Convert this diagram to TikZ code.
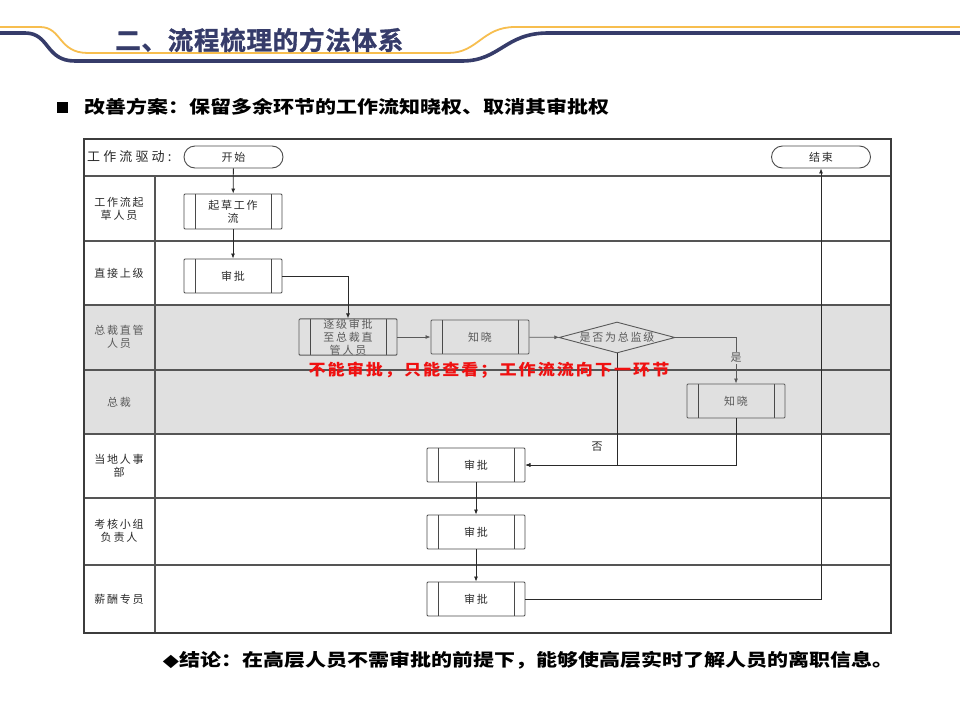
\documentclass[tikz,border=0pt]{standalone}
\usepackage{fontspec}
\setmainfont{Noto Sans CJK SC}
\newfontfamily\djv{DejaVu Sans}
\newfontfamily\dfont[LetterSpace=16]{Noto Sans CJK SC}
\newfontfamily\hfont[LetterSpace=24]{Noto Sans CJK SC}
\newfontfamily\rfont[LetterSpace=12]{Noto Sans CJK SC}
\newfontfamily\tfont[LetterSpace=3,FakeBold=1.2]{Noto Sans CJK SC Bold}
\usetikzlibrary{arrows.meta,shapes.geometric,calc}
\definecolor{navy}{HTML}{363C6A}
\definecolor{gold}{HTML}{F7BE4F}
\definecolor{band}{HTML}{E0E0E0}
\definecolor{framec}{HTML}{3C3C3C}
\definecolor{rowc}{HTML}{555555}
\definecolor{boxc}{HTML}{4A4A4A}
\definecolor{txt}{HTML}{2A2A2A}
\definecolor{gtxt}{HTML}{5A5A5A}
\definecolor{redt}{HTML}{F01010}
\tikzset{
  boxfont/.style={font=\dfont\fontsize{11}{13}\selectfont},
  pbox/.style={draw=boxc, line width=0.9pt, rounded corners=1pt,
    minimum width=98pt, minimum height=34pt, inner sep=0pt, align=center,
    boxfont, text=txt,
    path picture={\draw[boxc, line width=0.9pt]
      ([xshift=11pt]path picture bounding box.north west) -- ([xshift=11pt]path picture bounding box.south west)
      ([xshift=-11pt]path picture bounding box.north east) -- ([xshift=-11pt]path picture bounding box.south east);}},
  gbox/.style={pbox, text=gtxt, draw=gtxt},
  term/.style={draw=boxc, line width=0.9pt, rounded corners=11pt,
    minimum width=99pt, minimum height=22pt, inner sep=0pt, boxfont, text=txt},
  decide/.style={diamond, draw=gtxt, line width=0.9pt, aspect=3.7, inner sep=0pt,
    minimum width=116pt, minimum height=31pt, boxfont, text=gtxt},
  lanelbl/.style={align=center, boxfont, text=txt, inner sep=0pt},
  rowline/.style={draw=rowc, line width=1.1pt},
  flow/.style={draw=txt, line width=0.8pt, -{Latex[length=5pt,width=4pt]}},
  flowg/.style={draw=gtxt, line width=0.8pt, -{Latex[length=5pt,width=4pt]}},
  bigtxt/.style={font=\bfseries\fontsize{17.5}{20}\selectfont, text=black, inner sep=0pt, xscale=1.2},
}
\begin{document}
\begin{tikzpicture}[x=1pt,y=-1pt]
\useasboundingbox[fill=white] (0,0) rectangle (960,720);

% header swoosh
\draw[gold, line width=1.8pt] (0,27) -- (40,27) .. controls (62,27) and (58,53) .. (88,53) -- (448,53) .. controls (478,53) and (482,27) .. (515,27) -- (960,27);
\draw[navy, line width=3.6pt] (0,33) -- (25,33) .. controls (50,33) and (45,61) .. (75,61) -- (462,61) .. controls (500,61) and (505,33) .. (548,33) -- (960,33);
\node[font=\tfont\fontsize{25.5}{28}\selectfont, text=navy, inner sep=0pt, anchor=west] (title) at (115,40) {二、流程梳理的方法体系};

% subtitle
\node[fill=black, minimum size=11pt, inner sep=0pt] (bullet) at (62,107) {};
\node[bigtxt, anchor=west] (plan) at (84,107) {改善方案：保留多余环节的工作流知晓权、取消其审批权};

% swimlane frame
\fill[band] (84,305) rectangle (891,434);
\foreach \yy in {176,241,305,370,434,498,565} \draw[rowline] (84,\yy) -- (891,\yy);
\draw[rowline] (155,176) -- (155,633);
\draw[framec, line width=1.3pt] (84,139) rectangle (891,633);

% lane labels
\node[font=\hfont\fontsize{13}{15}\selectfont, text=txt, inner sep=0pt, anchor=west] (drv) at (87,157) {工作流驱动:};
\node[lanelbl] (l1) at (119,209) {工作流起\\草人员};
\node[lanelbl] (l2) at (119,273) {直接上级};
\node[lanelbl, text=gtxt] (l3) at (119,337) {总裁直管\\人员};
\node[lanelbl, text=gtxt] (l4) at (119,402) {总裁};
\node[lanelbl] (l5) at (119,466) {当地人事\\部};
\node[lanelbl] (l6) at (119,531) {考核小组\\负责人};
\node[lanelbl] (l7) at (119,599) {薪酬专员};

% flow nodes
\node[term] (start) at (233.5,157) {开始};
\node[term] (end) at (821,157) {结束};
\node[pbox, minimum height=35pt] (draft) at (233,211.5) {起草工作\\流};
\node[pbox] (appr1) at (233,276) {审批};
\node[gbox] (stepup) at (348,337) {逐级审批\\至总裁直\\管人员};
\node[gbox] (know1) at (480,337) {知晓};
\node[decide] (dia) at (617,337.5) {是否为总监级};
\node[gbox] (know2) at (736,401) {知晓};
\node[pbox] (hr) at (476,465) {审批};
\node[pbox] (kh) at (476,532) {审批};
\node[pbox] (xc) at (476,599) {审批};

% connectors
\draw[flow] (start) -- (draft);
\draw[flow] (draft) -- (appr1);
\draw[flow] (appr1.east) -| (stepup.north);
\draw[flowg] (stepup) -- (know1);
\draw[flowg] (know1) -- (dia);
\draw[flowg] (dia.east) -| node[pos=0.72, fill=band, inner sep=1pt, boxfont, text=gtxt] {是} (know2.north);
\draw[flow] (dia.south) |- (hr.east);
\draw[flow] (know2.south) |- (hr.east);
\node[boxfont, text=txt, inner sep=0pt] (no) at (597,447) {否};
\draw[flow] (hr) -- (kh);
\draw[flow] (kh) -- (xc);
\draw[flow] (xc.east) -| (end.south);

% red note
\node[font=\rfont\bfseries\fontsize{15.5}{18}\selectfont, text=redt, inner sep=0pt, xscale=1.1] (note) at (489,370) {不能审批，只能查看；工作流流向下一环节};

% conclusion
\node[bigtxt] (concl) at (528,660) {{\djv ◆}结论：在高层人员不需审批的前提下，能够使高层实时了解人员的离职信息。};
\end{tikzpicture}
\end{document}
